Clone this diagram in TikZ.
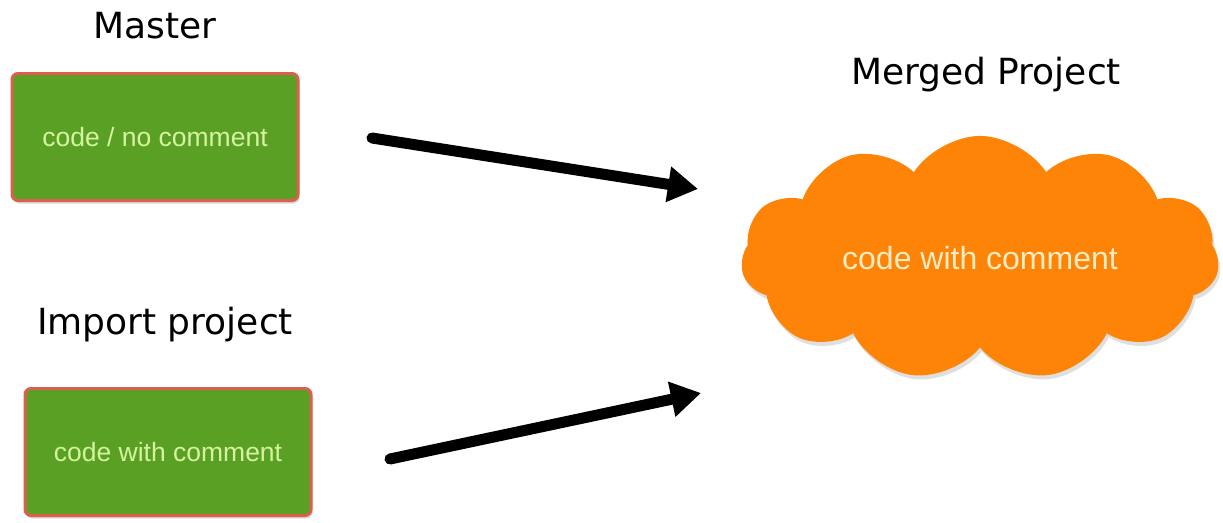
\documentclass[tikz,border=0pt]{standalone}
\usepackage{fontspec}
\setmainfont{Liberation Sans}
\newfontfamily\titlefont{DejaVu Sans}
\usepackage{tikz}
\usetikzlibrary{arrows.meta,shapes.symbols,shadows}
\definecolor{boxgreen}{RGB}{89,160,36}
\definecolor{boxedge}{RGB}{217,96,76}
\definecolor{boxtext}{RGB}{214,244,160}
\definecolor{cloudorange}{RGB}{253,132,6}
\definecolor{cloudtext}{RGB}{255,236,196}
\tikzset{
  px/.style={x=1pt, y=1pt},
  m box/.style={draw=boxedge, line width=3pt, fill=boxgreen, rounded corners=6pt,
    minimum width=286pt, minimum height=127pt, text=boxtext, font=\fontsize{26.5}{30}\selectfont,
    drop shadow={opacity=0.3, shadow xshift=1.5pt, shadow yshift=-3pt}},
  m cloud/.style={cloud, cloud puffs=11, cloud puff arc=115, aspect=2.1, fill=cloudorange,
    minimum width=478pt, minimum height=236pt, text=cloudtext, font=\fontsize{32}{36}\selectfont,
    drop shadow={opacity=0.25, shadow xshift=2pt, shadow yshift=-4pt}},
  m title/.style={anchor=base, font=\titlefont\fontsize{36}{42}\selectfont},
  m arr/.style={-{Triangle[length=30pt, width=34pt]}, line width=11pt, line cap=round,
    drop shadow={opacity=0.25, shadow xshift=2pt, shadow yshift=-5pt}},
}
\begin{document}
\begin{tikzpicture}[px]
\useasboundingbox (0,0) rectangle (1223,-522);
\node[m title] (tmaster) at (155,-38) {Master};
\node[m title] (timport) at (165,-334) {Import project};
\node[m title] (tmerged) at (986,-84) {Merged Project};
\node[m box] (master) at (155,-137) {code / no comment};
\node[m box] (import) at (168,-452) {code with comment};
\node[m cloud] (merged) at (980,-258) {code with comment};
\coordinate (a1s) at (372,-138);
\coordinate (a1e) at (698,-189);
\coordinate (a2s) at (390,-459);
\coordinate (a2e) at (701,-393);
\draw[m arr] (a1s) -- (a1e);
\draw[m arr] (a2s) -- (a2e);
\end{tikzpicture}
\end{document}
